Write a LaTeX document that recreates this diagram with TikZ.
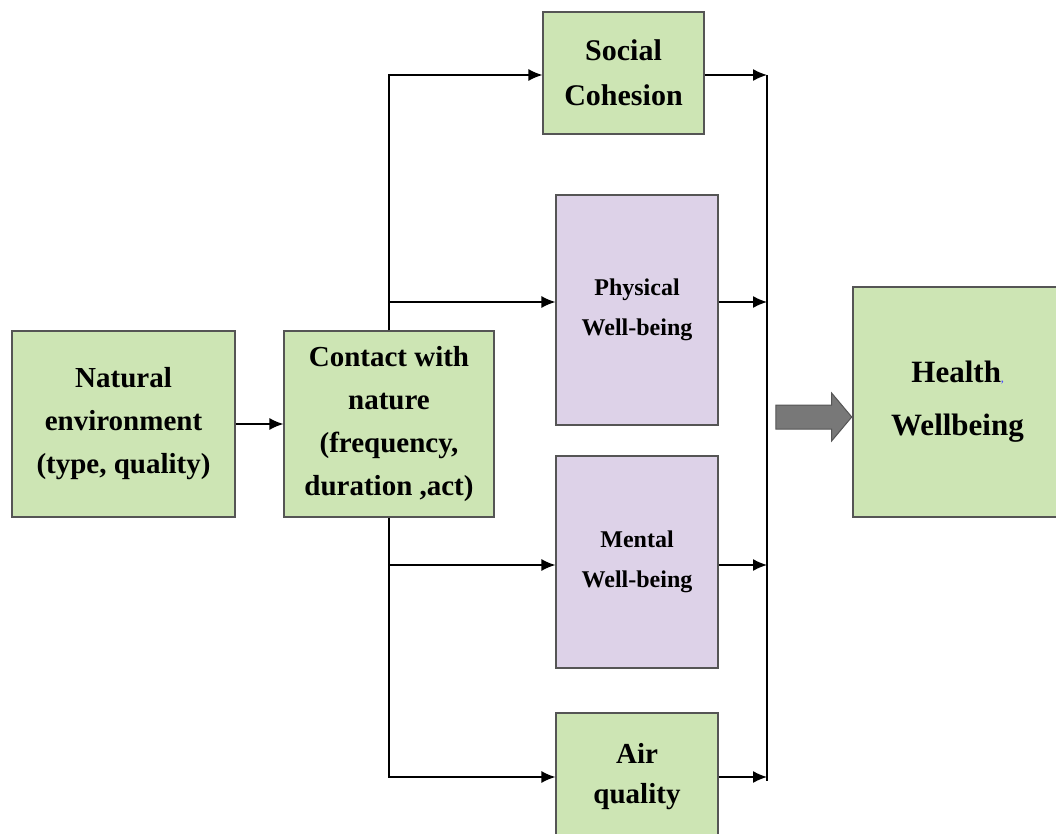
\documentclass[tikz,border=0pt]{standalone}
\usepackage{fontspec}
\setmainfont{Liberation Serif}
\usepackage{tikz}
\usetikzlibrary{arrows.meta,positioning,shapes.arrows}
\definecolor{boxgreen}{RGB}{205,229,180}
\definecolor{boxlilac}{RGB}{221,210,232}
\definecolor{edgegray}{RGB}{85,85,85}
\definecolor{arrowgray}{RGB}{120,120,120}

\begin{document}
\begin{tikzpicture}[
  x=1pt,y=-1pt,
  box/.style={
    draw=edgegray,
    line width=1.2pt,
    inner sep=0pt,
    align=center,
    font=\bfseries\fontsize{29}{43}\selectfont
  },
  green/.style={box,fill=boxgreen},
  lilac/.style={box,fill=boxlilac,font=\bfseries\fontsize{24}{40}\selectfont},
  flow/.style={-{Latex[length=14pt,width=12pt]},line width=1.4pt},
  bus/.style={line width=1.4pt}
]
\clip (0,0) rectangle (1056,834);
\fill[white] (0,0) rectangle (1056,834);
\node[green,minimum width=223,minimum height=186] (natenv) at (123.5,424)
  {Natural\\environment\\(type, quality)};
\node[green,minimum width=210,minimum height=186] (contact) at (389,424)
  {Contact with\\nature\\(frequency,\\duration ,act)};
\node[green,minimum width=161,minimum height=122,font=\bfseries\fontsize{30}{45}\selectfont] (social) at (623.5,73)
  {Social\\Cohesion};
\node[lilac,minimum width=162,minimum height=230] (physical) at (637,310)
  {Physical\\Well-being};
\node[lilac,minimum width=162,minimum height=212] (mental) at (637,562)
  {Mental\\Well-being};
\node[green,minimum width=162,minimum height=128,font=\bfseries\fontsize{29}{40}\selectfont] (air) at (637,777)
  {Air\\quality};
\node[green,minimum width=209,minimum height=230,font=\bfseries\fontsize{31}{53}\selectfont] (health) at (957.5,402)
  {Health{\color{blue!70}\fontsize{10}{10}\selectfont,}\\Wellbeing};
\coordinate (join) at (767,417);
% left side: contact branches out
\draw[flow] (natenv) -- (contact);
\draw[flow] (contact.north) |- ([yshift=-2pt]social.west);
\draw[flow] (contact.north) |- ([yshift=8pt]physical.west);
\draw[flow] (contact.south) |- ([yshift=-3pt]mental.west);
\draw[flow] (contact.south) |- (air.west);
% right side: everything joins
\draw[flow] ([yshift=-2pt]social.east) -- ([yshift=-2pt]social.east -| join);
\draw[flow] ([yshift=8pt]physical.east) -- ([yshift=8pt]physical.east -| join);
\draw[flow] ([yshift=-3pt]mental.east) -- ([yshift=-3pt]mental.east -| join);
\draw[flow] (air.east) -- (air.east -| join);
\draw[bus] ([yshift=-2pt]social.east -| join) -- ([yshift=-4pt]air.east -| join);
\node[single arrow,draw=edgegray,fill=arrowgray,line width=1pt,
  minimum height=76,inner xsep=0pt,inner ysep=11.5pt,
  single arrow head extend=12pt,single arrow tip angle=100,
  anchor=tip] (bigarrow) at (health.west |- join) {};
\end{tikzpicture}
\end{document}
